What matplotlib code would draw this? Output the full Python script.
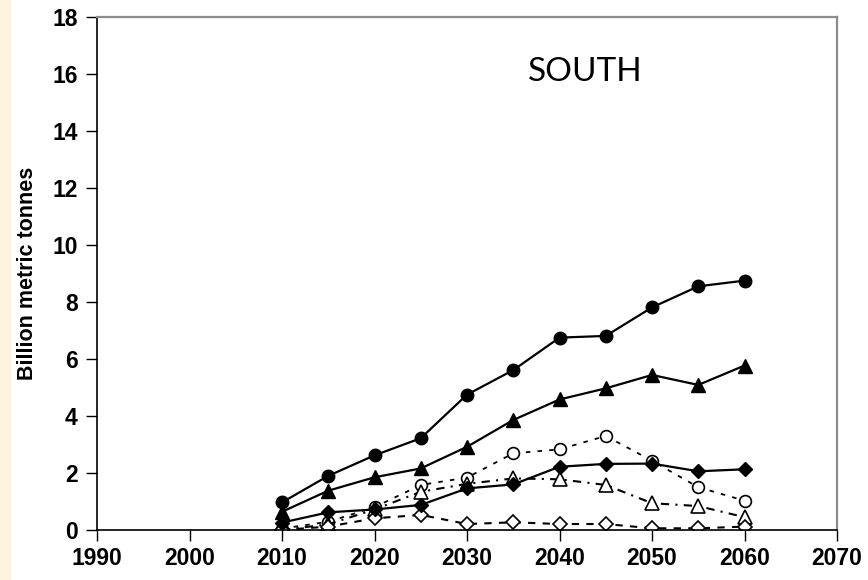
import numpy as np
import matplotlib
matplotlib.use('Agg')
import matplotlib.pyplot as plt
from matplotlib.patches import Rectangle

years = [2010, 2015, 2020, 2025, 2030, 2035, 2040, 2045, 2050, 2055, 2060]

# solid series (filled markers)
total = [0.97, 1.90, 2.62, 3.22, 4.75, 5.61, 6.75, 6.81, 7.81, 8.55, 8.75]
tri_solid = [0.64, 1.38, 1.85, 2.16, 2.92, 3.86, 4.58, 4.97, 5.44, 5.09, 5.77]
dia_solid = [0.26, 0.62, 0.72, 0.88, 1.46, 1.60, 2.22, 2.32, 2.33, 2.06, 2.13]

# dashed series (open markers)
circ_open = [0.05, 0.29, 0.80, 1.58, 1.84, 2.69, 2.83, 3.30, 2.43, 1.50, 1.03]
tri_open = [0.00, 0.20, 0.72, 1.34, 1.62, 1.81, 1.78, 1.58, 0.94, 0.84, 0.45]
dia_open = [0.00, 0.12, 0.41, 0.53, 0.21, 0.27, 0.21, 0.21, 0.06, 0.06, 0.12]

xticks = [1990, 2000, 2010, 2020, 2030, 2040, 2050, 2060, 2070]
yticks = [0, 2, 4, 6, 8, 10, 12, 14, 16, 18]

plt.rcParams['font.family'] = ['Liberation Sans', 'DejaVu Sans']

fig = plt.figure(figsize=(8.68, 5.8), dpi=100)
ax = fig.add_axes([0.1118, 0.0862, 0.8525, 0.8845])

# beige strip on the left border
fig.patches.append(Rectangle((0, 0), 11 / 868, 1, transform=fig.transFigure,
                             facecolor='#fdf3df', edgecolor='none', zorder=0))

ms = 9
ax.plot(years, circ_open, linestyle=(0, (2.5, 4)), color='black', lw=1.3,
        marker='o', markersize=ms - 0.5, markerfacecolor='white', markeredgewidth=1.2)
ax.plot(years, tri_open, linestyle=(0, (4, 3, 1, 3)), color='black', lw=1.5,
        marker='^', markersize=ms + 0.5, markerfacecolor='white', markeredgewidth=1.2)
ax.plot(years, dia_open, linestyle=(0, (3.5, 3.5)), color='black', lw=1.5,
        marker='D', markersize=ms - 2, markerfacecolor='white', markeredgewidth=1.2)
ax.plot(years, dia_solid, '-', color='black', lw=1.6, marker='D', markersize=ms - 1.5)
ax.plot(years, tri_solid, '-', color='black', lw=1.6, marker='^', markersize=ms + 1)
ax.plot(years, total, '-', color='black', lw=1.6, marker='o', markersize=ms)

ax.set_xlim(1990, 2070)
ax.set_ylim(0, 18)
ax.set_xticks(xticks)
ax.set_yticks(yticks)
ax.tick_params(direction='out', length=8, width=1, labelsize=16.5)
ax.tick_params(axis='y', pad=6)
ax.tick_params(axis='x', pad=4)
for lbl in ax.get_xticklabels() + ax.get_yticklabels():
    lbl.set_fontweight('bold')

for side in ['left', 'bottom']:
    ax.spines[side].set_color('black')
    ax.spines[side].set_linewidth(1.2)
for side in ['top', 'right']:
    ax.spines[side].set_color('#8c8c8c')
    ax.spines[side].set_linewidth(1.6)

ax.set_ylabel('Billion metric tonnes', fontsize=15.5, fontweight='bold', labelpad=10)
ax.text(0.66, 0.893, 'SOUTH', transform=ax.transAxes, ha='center', va='center',
        fontsize=24, family=['Lato', 'DejaVu Sans'])

fig.savefig('out.png', dpi=100)
